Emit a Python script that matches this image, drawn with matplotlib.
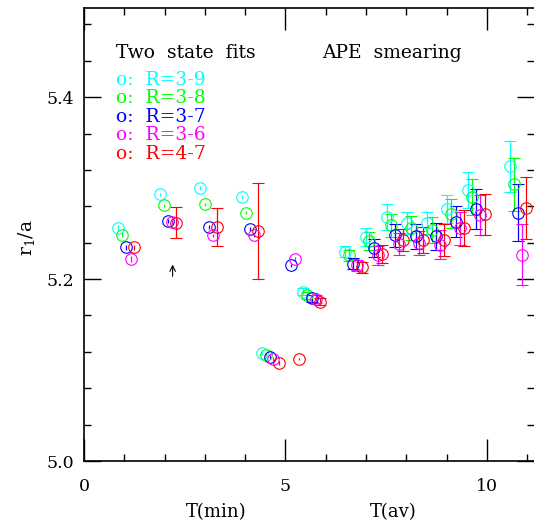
import numpy as np
import matplotlib
matplotlib.use("Agg")
import matplotlib.pyplot as plt
from matplotlib.ticker import MultipleLocator
from matplotlib.transforms import blended_transform_factory

plt.rcParams['font.family'] = ['DejaVu Serif', 'DejaVu Sans']
plt.rcParams['mathtext.fontset'] = 'dejavuserif'

# r_1/a from two state fits, one list per fit range R
labels = ["R=3-9", "R=3-8", "R=3-7", "R=3-6", "R=4-7"]
colors = ["#00ffff", "#00ff00", "#0000ff", "#ff00ff", "#ff0000"]

x_39 = [0.85, 1.88, 2.89, 3.93, 4.43, 5.44, 6.48, 7.00, 7.51, 8.02, 8.52, 9.02, 9.54, 10.57]
y_39 = [5.256, 5.293, 5.300, 5.290, 5.119, 5.186, 5.230, 5.246, 5.268, 5.262, 5.262, 5.277, 5.298, 5.324]
e_39 = [0.003, 0.002, 0.002, 0.002, 0.002, 0.004, 0.006, 0.010, 0.014, 0.012, 0.012, 0.015, 0.020, 0.028]

x_38 = [0.95, 1.98, 3.00, 4.02, 4.53, 5.54, 6.58, 7.08, 7.61, 8.11, 8.63, 9.12, 9.64, 10.67]
y_38 = [5.249, 5.281, 5.282, 5.273, 5.117, 5.182, 5.226, 5.242, 5.259, 5.256, 5.254, 5.272, 5.290, 5.304]
e_38 = [0.003, 0.002, 0.002, 0.002, 0.002, 0.004, 0.006, 0.010, 0.013, 0.013, 0.014, 0.016, 0.020, 0.029]

x_37 = [1.04, 2.08, 3.10, 4.11, 4.62, 5.14, 5.65, 6.67, 7.19, 7.71, 8.23, 8.73, 9.23, 9.74, 10.78]
y_37 = [5.235, 5.264, 5.257, 5.255, 5.114, 5.215, 5.179, 5.217, 5.234, 5.248, 5.247, 5.247, 5.263, 5.277, 5.273]
e_37 = [0.003, 0.002, 0.002, 0.002, 0.002, 0.002, 0.004, 0.006, 0.010, 0.013, 0.014, 0.015, 0.017, 0.022, 0.031]

x_36 = [1.16, 2.18, 3.19, 4.22, 4.70, 5.24, 5.75, 6.78, 7.29, 7.82, 8.32, 8.83, 9.33, 9.84, 10.88]
y_36 = [5.222, 5.263, 5.248, 5.248, 5.112, 5.222, 5.178, 5.215, 5.226, 5.239, 5.240, 5.238, 5.256, 5.270, 5.227]
e_36 = [0.003, 0.002, 0.002, 0.002, 0.002, 0.002, 0.004, 0.006, 0.010, 0.012, 0.013, 0.016, 0.018, 0.022, 0.034]

x_47 = [1.25, 2.28, 3.31, 4.33, 4.85, 5.34, 5.86, 6.89, 7.40, 7.92, 8.42, 8.94, 9.43, 9.96, 10.98]
y_47 = [5.235, 5.262, 5.257, 5.253, 5.108, 5.112, 5.175, 5.213, 5.228, 5.243, 5.243, 5.243, 5.256, 5.271, 5.278]
e_47 = [0.003, 0.017, 0.021, 0.053, 0.002, 0.001, 0.004, 0.006, 0.010, 0.012, 0.014, 0.018, 0.020, 0.023, 0.034]

series = [(x_39, y_39, e_39), (x_38, y_38, e_38), (x_37, y_37, e_37),
          (x_36, y_36, e_36), (x_47, y_47, e_47)]

fig = plt.figure(figsize=(5.34, 5.25), dpi=100)
ax = fig.add_axes([84 / 534, 64 / 525, 450 / 534, 453 / 525])

for (xs, ys, es), c in zip(series, colors):
    xs, ys, es = np.array(xs), np.array(ys), np.array(es)
    big = es >= 0.004
    # tiny errors: no caps, only the short bar inside the circle
    ax.errorbar(xs[~big], ys[~big], yerr=es[~big], fmt='o', mfc='none', mec=c,
                ms=8.3, mew=0.8, ecolor=c, elinewidth=0.9, capsize=0)
    ax.errorbar(xs[big], ys[big], yerr=es[big], fmt='o', mfc='none', mec=c,
                ms=8.3, mew=0.8, ecolor=c, elinewidth=0.9, capsize=4.5, capthick=0.9)

# marker for T(min)
ax.annotate('', xy=(2.2, 5.219), xytext=(2.2, 5.200),
            arrowprops=dict(arrowstyle='->', color='black', lw=0.8))

ax.set_xlim(0, 11.17)
ax.set_ylim(5.0, 5.498)

ax.xaxis.set_major_locator(MultipleLocator(5))
ax.xaxis.set_minor_locator(MultipleLocator(1))
ax.yaxis.set_major_locator(MultipleLocator(0.2))
ax.yaxis.set_minor_locator(MultipleLocator(0.04))
ax.set_yticks([5.0, 5.2, 5.4])
ax.set_yticklabels(["5.0", "5.2", "5.4"])
ax.set_xticks([0, 5, 10])
ax.set_xticklabels(["0", "5", "10"])

ax.tick_params(axis='both', which='both', direction='in', top=True, right=True,
               width=1.0, labelsize=12.5, colors='black')
ax.tick_params(axis='x', which='major', length=16, pad=12)
ax.tick_params(axis='x', which='minor', length=5)
ax.tick_params(axis='y', which='major', length=12, pad=7)
ax.tick_params(axis='y', which='minor', length=5)
for side in ['left', 'bottom', 'top']:
    ax.spines[side].set_linewidth(1.2)
ax.spines['right'].set_visible(False)

ax.text(0.79, 5.448, "Two  state  fits", fontsize=13.5, va='center', ha='left')
ax.text(5.9, 5.448, "APE  smearing", fontsize=13.5, va='center', ha='left')
legend_y = [5.419, 5.399, 5.378, 5.358, 5.338]
for lab, c, ly in zip(labels, colors, legend_y):
    ax.text(0.79, ly, "o:  " + lab, color=c, fontsize=13.5, va='center', ha='left')

trans = blended_transform_factory(ax.transData, ax.transAxes)
ax.text(3.28, -0.113, "T(min)", transform=trans, fontsize=13, ha='center', va='center')
ax.text(7.67, -0.113, "T(av)", transform=trans, fontsize=13, ha='center', va='center')
ax.text(-0.127, 0.494, r"r$_1$/a", transform=ax.transAxes, fontsize=13.5,
        rotation=90, ha='center', va='center')

fig.savefig("out.png", dpi=100)
